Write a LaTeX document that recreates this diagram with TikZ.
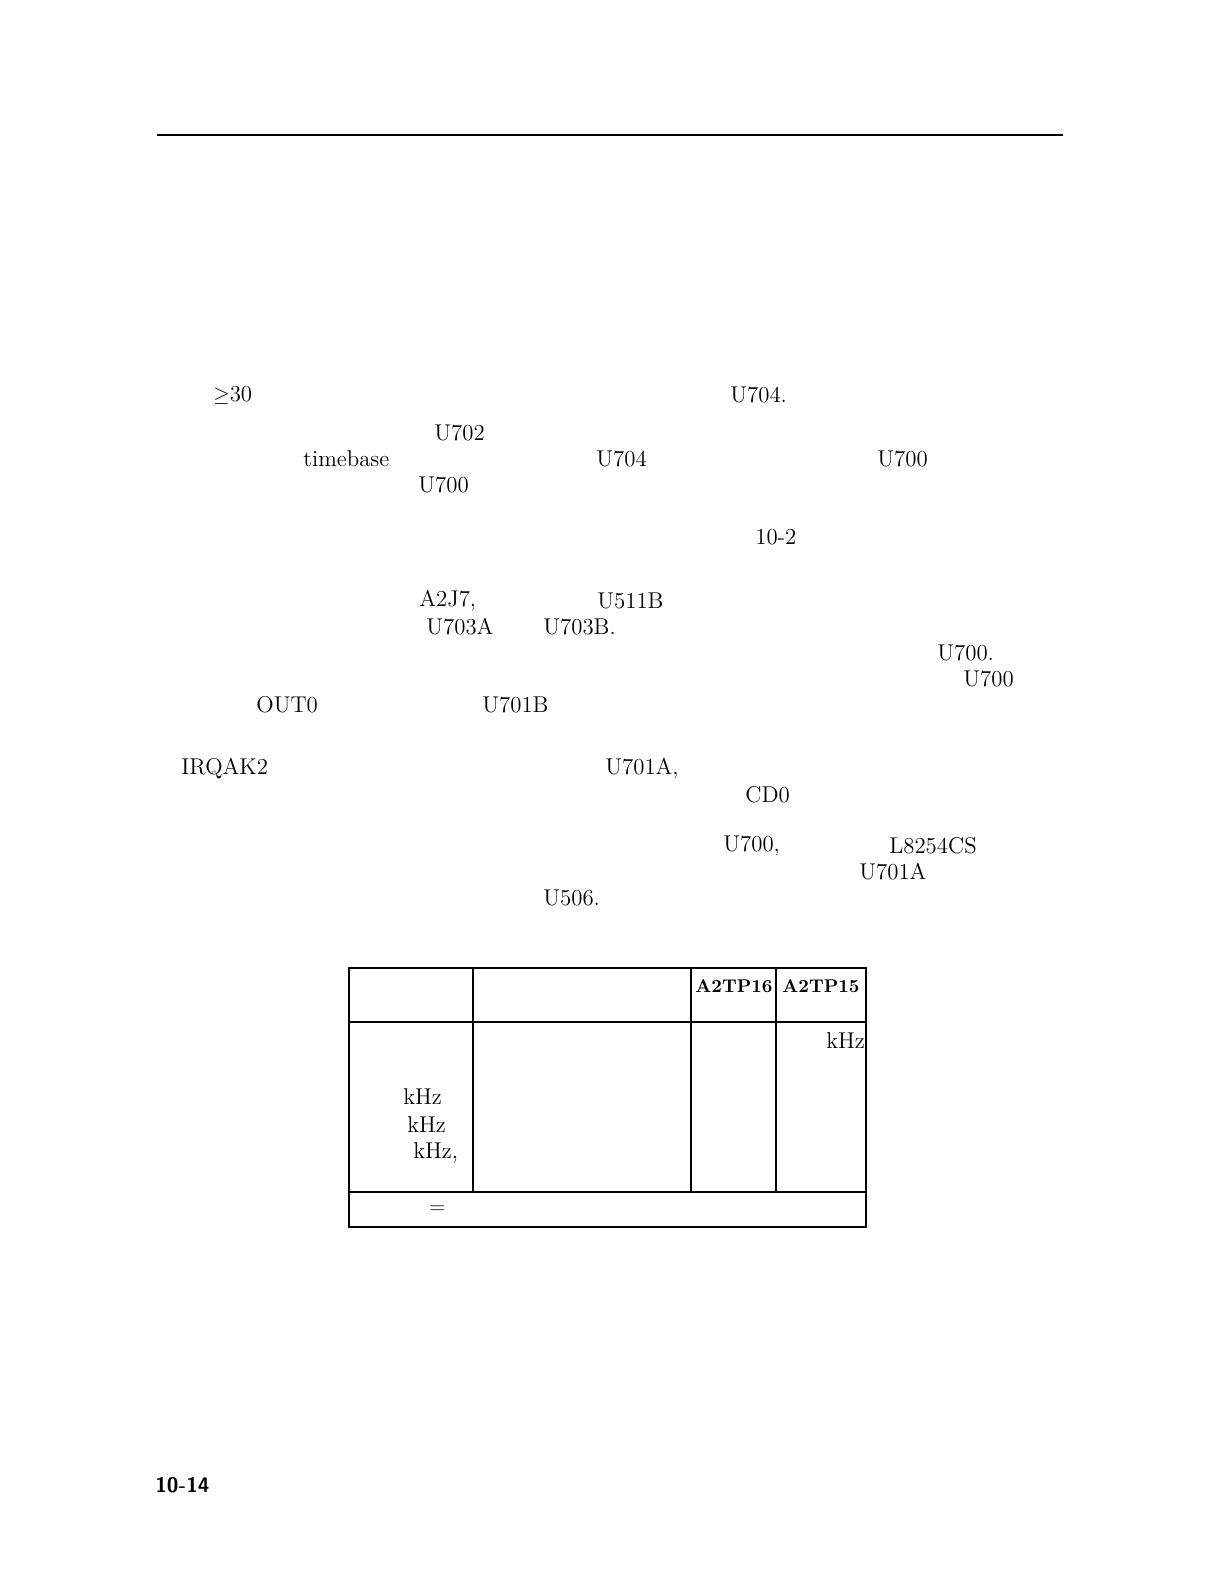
\documentclass[tikz,border=0pt]{standalone}
\usepackage{amsmath,amssymb}
\usetikzlibrary{positioning}
\begin{document}
\begin{tikzpicture}[x=0.02cm,y=-0.02cm,
  txt/.style={anchor=west, inner sep=0pt, font=\fontsize{13}{16}\selectfont},
  hdr/.style={anchor=center, inner sep=0pt, font=\fontsize{10.5}{13}\selectfont\bfseries},
  rule/.style={line width=0.8pt}]
\useasboundingbox (0,0) rectangle (1214,1584);
% Top rule
\draw[rule] (157,135) -- (1063,135);
% Text fragments
\node[txt] (ge) at (213,395) {$\geq$30};
\node[txt] (ua) at (730,395) {U704.};
\node[txt] (ub) at (434,433) {U702};
\node[txt] (tb) at (303,459) {timebase};
\node[txt] (uc) at (596,459) {U704};
\node[txt] (ud) at (877,459) {U700};
\node[txt] (ue) at (418,485) {U700};
\node[txt] (fig) at (755,537) {10-2};
\node[txt] (jk) at (419,601) {A2J7,};
\node[txt] (uf) at (597,601) {U511B};
\node[txt] (ug) at (426,627) {U703A};
\node[txt] (uh) at (543,627) {U703B.};
\node[txt] (ui) at (937,653) {U700.};
\node[txt] (uj) at (963,679) {U700};
\node[txt] (out) at (256,705) {OUT0};
\node[txt] (uk) at (482,705) {U701B};
\node[txt] (irq) at (181,769) {IRQAK2};
\node[txt] (ul) at (605,769) {U701A,};
\node[txt] (cd) at (745,795) {CD0};
\node[txt] (um) at (723,846) {U700,};
\node[txt] (cs) at (889,846) {L8254CS};
\node[txt] (un) at (859,872) {U701A};
\node[txt] (uo) at (543,898) {U506.};
% Table
\draw[rule] (349,968) rectangle (866,1227);
\draw[rule] (349,1022) -- (866,1022);
\draw[rule] (349,1192) -- (866,1192);
\foreach \x in {473,691,776}
  \draw[rule] (\x,968) -- (\x,1192);
\node[hdr] (tp16) at (734,986) {A2TP16};
\node[hdr] (tp15) at (821,986) {A2TP15};
\node[txt] (k1) at (826,1041) {kHz};
\node[txt] (k2) at (403,1097) {kHz};
\node[txt] (k3) at (407,1125) {kHz};
\node[txt] (k4) at (413,1153) {kHz,};
\node[txt] (eq) at (429,1210) {$=$};
% Page number
\node[anchor=west, inner sep=0pt, font=\fontsize{12}{14}\selectfont\sffamily\bfseries] (pg) at (155,1485) {10-14};
\end{tikzpicture}
\end{document}
